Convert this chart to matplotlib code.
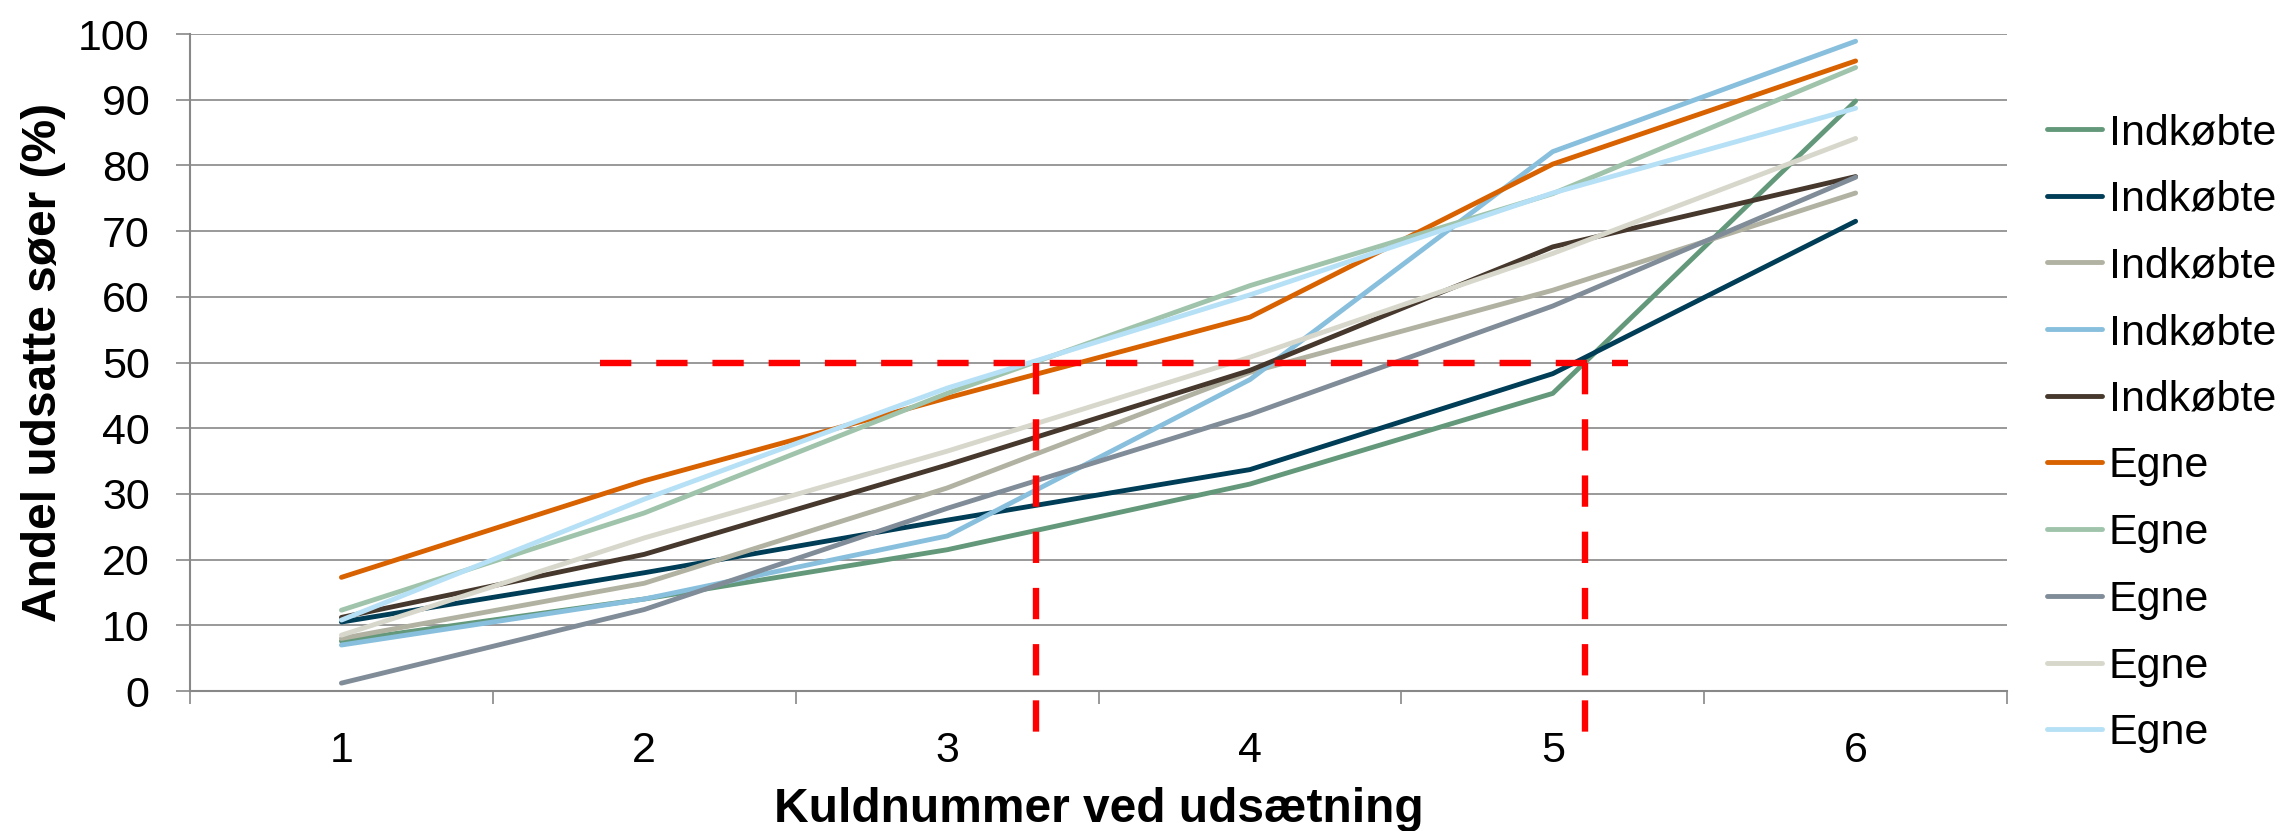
import matplotlib
matplotlib.use("Agg")
import matplotlib.pyplot as plt

plt.rcParams["font.family"] = ["Liberation Sans", "DejaVu Sans"]

# kuldnummer 1..6
litters = [1, 2, 3, 4, 5, 6]

labels = [
    "Indkøbte", "Indkøbte", "Indkøbte", "Indkøbte", "Indkøbte",
    "Egne", "Egne", "Egne", "Egne", "Egne",
]
colors = [
    "#63997A", "#003D57", "#B2B2A2", "#88BFDD", "#46382C",
    "#D86100", "#9FC4AB", "#808D99", "#D8D7CB", "#B6E0F5",
]

indk_1 = [7.6, 14.0, 21.5, 31.5, 45.3, 89.8]
indk_2 = [10.5, 18.0, 26.0, 33.7, 48.3, 71.5]
indk_3 = [8.0, 16.4, 30.9, 48.5, 61.0, 75.8]
indk_4 = [7.0, 14.0, 23.6, 47.4, 82.1, 98.9]
indk_5 = [11.2, 20.8, 34.4, 48.8, 67.6, 78.3]
egne_1 = [17.3, 32.0, 44.6, 56.9, 80.2, 95.9]
egne_2 = [12.3, 27.1, 45.3, 61.7, 75.7, 94.9]
egne_3 = [1.2, 12.4, 27.8, 42.1, 58.6, 78.2]
egne_4 = [8.5, 23.3, 36.5, 50.8, 66.6, 84.1]
egne_5 = [10.8, 29.2, 46.1, 60.3, 75.8, 88.7]

series = [indk_1, indk_2, indk_3, indk_4, indk_5,
          egne_1, egne_2, egne_3, egne_4, egne_5]

# red 50 % guide lines
ref_level = 50
ref_start = 1.854
ref_end = 5.247
ref_cross = [3.292, 5.108]
ref_bottom = -6.2

yticks = list(range(0, 101, 10))

fig = plt.figure(figsize=(22.87, 8.31), dpi=100)
ax = fig.add_axes([0.08308, 0.16847, 0.7945, 0.7906])

for values, label, color in zip(series, labels, colors):
    ax.plot(litters, values, color=color, linewidth=3.5, label=label,
            solid_capstyle="round", solid_joinstyle="round", zorder=3)

dash = dict(color="#FF0000", linewidth=4.6, dashes=(4.9, 3.9),
            solid_capstyle="butt", zorder=5, clip_on=False)
ax.plot([ref_start, ref_end], [ref_level, ref_level], **dash)
for xc in ref_cross:
    ax.plot([xc, xc], [ref_level, ref_bottom], **dash)

grid_color = "#888888"
ax.set_xlim(0.5, 6.5)
ax.set_ylim(0, 100)
ax.set_yticks(yticks)
ax.yaxis.grid(True, color=grid_color, linewidth=1.2, zorder=0)
ax.set_axisbelow(True)

ax.set_xticks([0.5 + i for i in range(7)])
ax.set_xticklabels([])
ax.set_xticks(litters, minor=True)
ax.set_xticklabels([str(v) for v in litters], minor=True)
ax.tick_params(axis="x", which="major", length=9.4, width=1.2,
               color=grid_color, direction="out")
ax.tick_params(axis="x", which="minor", length=0, pad=28.5, labelsize=31)
ax.tick_params(axis="y", length=10, width=1.2, color=grid_color,
               direction="out", pad=19, labelsize=31)

for side in ["top", "right"]:
    ax.spines[side].set_visible(False)
for side in ["left", "bottom"]:
    ax.spines[side].set_color(grid_color)
    ax.spines[side].set_linewidth(1.5)

ax.set_ylabel("Andel udsatte søer (%)", fontsize=34.5, fontweight="bold",
              va="center")
ax.yaxis.set_label_coords(-0.0809, 0.5)
ax.set_xlabel("Kuldnummer ved udsætning", fontsize=34.5, fontweight="bold",
              va="center")
ax.xaxis.set_label_coords(0.5, -0.181)

fig.legend(loc="upper left", bbox_to_anchor=(0.8951, 0.864),
           bbox_transform=fig.transFigure, frameon=False, fontsize=31,
           borderpad=0, borderaxespad=0, handlelength=1.28,
           handletextpad=0.15, labelspacing=0.62)

fig.savefig("out.png", dpi=100)
